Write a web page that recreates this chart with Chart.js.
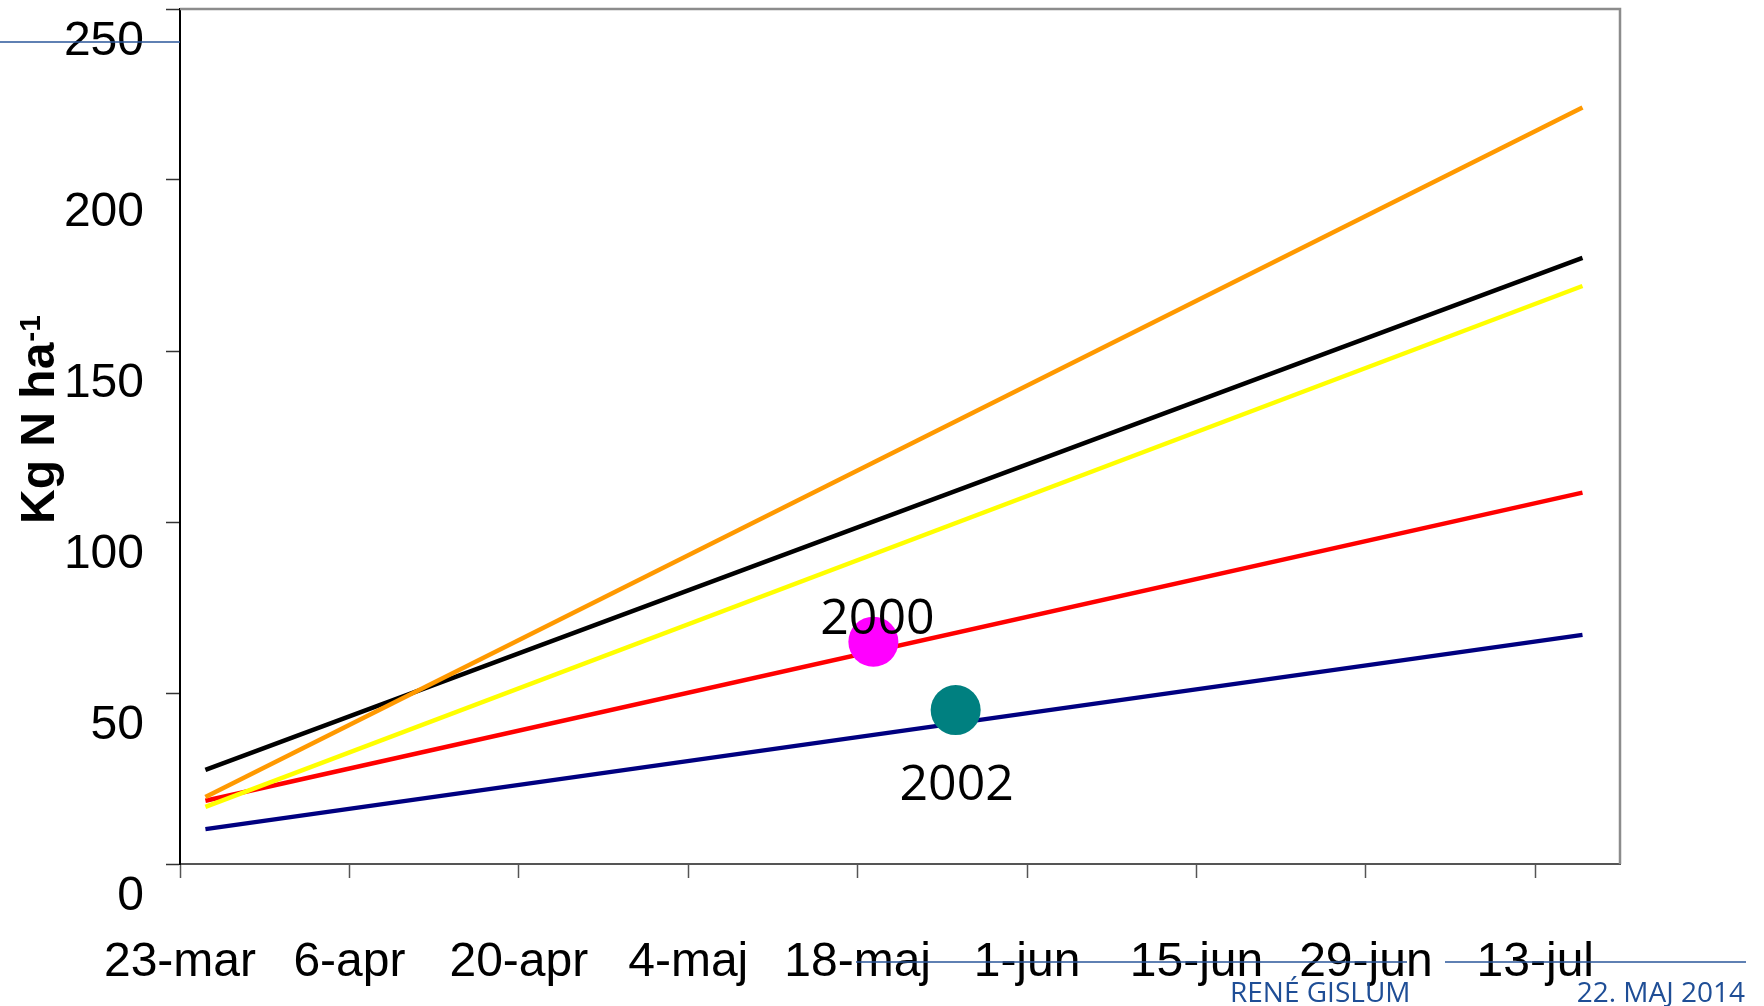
<!DOCTYPE html>
<html lang="da">
<head>
<meta charset="utf-8">
<title>Kg N ha-1</title>
<script src="https://cdn.jsdelivr.net/npm/chart.js@4.4.1/dist/chart.umd.min.js"></script>
<style>
  html, body { margin: 0; padding: 0; background: #fff; overflow: hidden; }
  #wrap { width: 1764px; height: 1006px; }
</style>
</head>
<body>
<div id="wrap"><canvas id="graf" width="1764" height="1006"></canvas></div>
<script>
// --- 1. Data ---
// x-aksen er dage regnet fra 23-mar
const xTickDays = [0, 14, 28, 42, 56, 70, 84, 98, 112];
const xTickLabels = ['23-mar', '6-apr', '20-apr', '4-maj', '18-maj', '1-jun', '15-jun', '29-jun', '13-jul'];
const yTicks = [0, 50, 100, 150, 200, 250];

// Linjernes start- og slutdag
const lineDays = [2.1, 115.9];
const orangeVals = [19.6, 221.2];
const blackVals = [27.5, 177.2];
const yellowVals = [16.7, 169.0];
const redVals = [18.5, 108.6];
const blueVals = [10.2, 67.0];

// Målte punkter
const obsLabels = ['2000', '2002'];
const obsDays = [57.3, 64.1];
const obsVals = [65.0, 45.0];

const FONT = "'Liberation Sans', Arial, sans-serif";

// --- 2. Hjælpefunktioner ---
function linePoints(vals) {
    return lineDays.map((d, i) => ({ x: d, y: vals[i] }));
}

function lineSet(vals, color) {
    return {
        data: linePoints(vals),
        borderColor: color,
        borderWidth: 4.5,
        pointRadius: 0,
        tension: 0,
        fill: false
    };
}

function markerSet(i, color) {
    return {
        data: [{ x: obsDays[i], y: obsVals[i] }],
        showLine: false,
        pointRadius: 25,
        pointHoverRadius: 25,
        pointBackgroundColor: color,
        pointBorderColor: color,
        pointBorderWidth: 0,
        label: obsLabels[i]
    };
}

// Ramme foroven og til højre
const frame = {
    id: 'frame',
    beforeDatasetsDraw(chart) {
        const { ctx, chartArea: a } = chart;
        ctx.save();
        ctx.strokeStyle = '#8c8c8c';
        ctx.lineWidth = 2.5;
        ctx.beginPath();
        ctx.moveTo(a.left, a.top);
        ctx.lineTo(a.right, a.top);
        ctx.lineTo(a.right, a.bottom);
        ctx.stroke();
        ctx.restore();
    }
};

// Y-aksens titel med hævet -1
const yTitle = {
    id: 'yTitle',
    afterDraw(chart) {
        const { ctx } = chart;
        ctx.save();
        ctx.translate(54, 524);
        ctx.rotate(-Math.PI / 2);
        ctx.fillStyle = '#000';
        ctx.textAlign = 'left';
        ctx.textBaseline = 'alphabetic';
        ctx.font = 'bold 48px ' + FONT;
        ctx.fillText('Kg N ha', 0, 0);
        const w = ctx.measureText('Kg N ha').width;
        ctx.font = 'bold 30px ' + FONT;
        ctx.fillText('-1', w + 1, -14);
        ctx.restore();
    }
};

// Årstal ved punkterne
const obsText = {
    id: 'obsText',
    afterDatasetsDraw(chart) {
        const { ctx } = chart;
        const offs = [[4, -8], [1, 90]];
        ctx.save();
        ctx.font = "50px 'Open Sans', sans-serif";
        ctx.fillStyle = '#000';
        ctx.textAlign = 'center';
        ctx.textBaseline = 'alphabetic';
        obsLabels.forEach((lab, i) => {
            const px = chart.scales.x.getPixelForValue(obsDays[i]);
            const py = chart.scales.y.getPixelForValue(obsVals[i]);
            ctx.fillText(lab, px + offs[i][0], py + offs[i][1]);
        });
        ctx.restore();
    }
};

// Slide-skabelon: blå streger og sidefod
const slide = {
    id: 'slide',
    afterDraw(chart) {
        const { ctx } = chart;
        ctx.save();
        ctx.strokeStyle = '#2b579a';
        ctx.lineWidth = 1.5;
        ctx.beginPath();
        ctx.moveTo(0, 42); ctx.lineTo(180, 42);
        ctx.moveTo(856, 962); ctx.lineTo(1407, 962);
        ctx.moveTo(1445, 962); ctx.lineTo(1746, 962);
        ctx.stroke();
        ctx.fillStyle = '#1f4e96';
        ctx.font = "28px 'Open Sans', sans-serif";
        ctx.textBaseline = 'alphabetic';
        ctx.textAlign = 'left';
        ctx.fillText('RENÉ GISLUM', 1230, 1002);
        ctx.textAlign = 'right';
        ctx.fillText('22. MAJ 2014', 1745, 1002);
        ctx.restore();
    }
};

// --- 3. Graf ---
new Chart(document.getElementById('graf'), {
    type: 'line',
    data: {
        datasets: [
            markerSet(0, '#ff00ff'),
            markerSet(1, '#008080'),
            lineSet(orangeVals, '#ff9900'),
            lineSet(yellowVals, '#ffff00'),
            lineSet(blackVals, '#000000'),
            lineSet(redVals, '#ff0000'),
            lineSet(blueVals, '#000080')
        ]
    },
    options: {
        responsive: false,
        animation: false,
        devicePixelRatio: 1,
        layout: { autoPadding: false, padding: { top: 9, right: 144, left: 0, bottom: 0 } },
        plugins: {
            legend: { display: false },
            tooltip: { enabled: false }
        },
        scales: {
            x: {
                type: 'linear',
                min: 0,
                max: 119,
                afterBuildTicks: (s) => { s.ticks = xTickDays.map(v => ({ value: v })); },
                afterFit: (s) => { s.height = 142; s.paddingLeft = 0; s.paddingRight = 0; },
                border: { color: '#555', width: 2 },
                grid: { drawOnChartArea: false, drawTicks: true, tickLength: 14, tickColor: '#555', tickWidth: 1.5 },
                ticks: {
                    autoSkip: false,
                    maxRotation: 0,
                    padding: 56,
                    color: '#000',
                    font: { family: FONT, size: 48 },
                    callback: (v, i) => xTickLabels[i]
                }
            },
            y: {
                min: 0,
                max: 250,
                afterBuildTicks: (s) => { s.ticks = yTicks.map(v => ({ value: v })); },
                afterFit: (s) => { s.width = 180; s.paddingTop = 0; s.paddingBottom = 0; },
                border: { color: '#000', width: 2 },
                grid: { drawOnChartArea: false, drawTicks: true, tickLength: 14, tickColor: '#333', tickWidth: 1.5 },
                ticks: {
                    padding: 22,
                    labelOffset: 33,
                    color: '#000',
                    font: { family: FONT, size: 48 }
                }
            }
        }
    },
    plugins: [frame, obsText, yTitle, slide]
});
</script>
</body>
</html>
